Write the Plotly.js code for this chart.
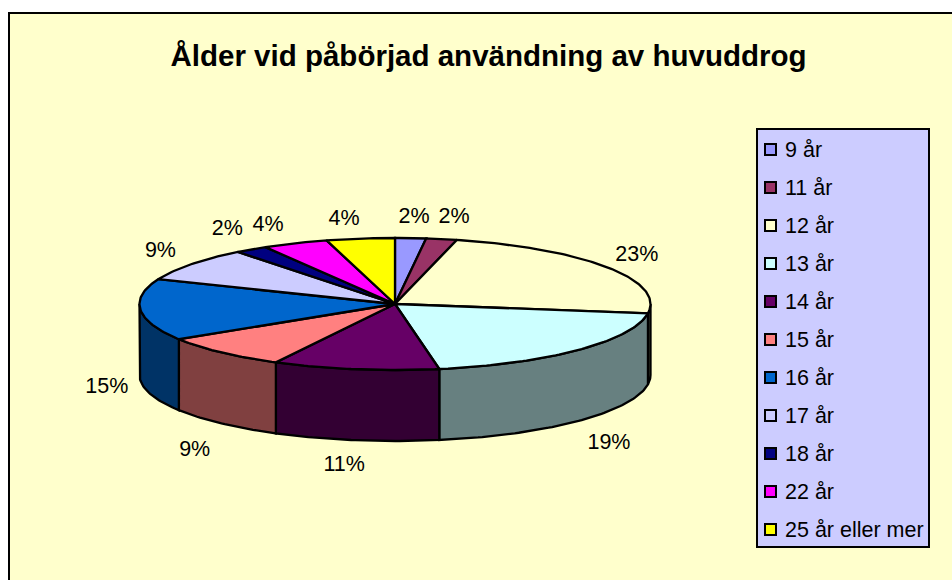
<!DOCTYPE html>
<html><head><meta charset="utf-8">
<script src="https://cdn.plot.ly/plotly-3.0.1.min.js"></script>
<style>html,body{margin:0;padding:0;background:#fff}#c{width:952px;height:580px}</style>
</head><body><div id="c"></div>
<script>
const categories = ["9 år","11 år","12 år","13 år","14 år","15 år","16 år","17 år","18 år","22 år","25 år eller mer"];
const values = [1,1,12,10,6,5,8,5,1,2,2];
const topColors = ["#9999FF","#993366","#FFFFCC","#CCFFFF","#660066","#FF8080","#0066CC","#CCCCFF","#000080","#FF00FF","#FFFF00"];
const sideColors = ["#4C4C80","#4C1933","#808066","#678080","#330033","#804040","#003366","#666680","#000040","#800080","#808000"];
const titleText = "Ålder vid påbörjad användning av huvuddrog";

const font = "Liberation Sans, Arial, sans-serif";
const cx = 395, cy = 304, rx = 255.5, ry = 66, depth = 71;
// Excel's perspective view shifts wedge boundaries slightly
const warpAt = [0,95,163,204,238,292,326,346,360];
const warpBy = [0,3,7,4,0,0,-4,-2,0];
function warp(d){
  for(let i=1;i<warpAt.length;i++){
    if(d<=warpAt[i]){
      const t=(d-warpAt[i-1])/(warpAt[i]-warpAt[i-1]);
      return d+warpBy[i-1]+t*(warpBy[i]-warpBy[i-1]);
    }
  }
  return d;
}
const px = d => cx + rx*Math.sin(d*Math.PI/180);
const py = d => cy - ry*Math.cos(d*Math.PI/180);
const total = values.reduce((a,b)=>a+b,0);
let cum = 0;
const wedges = values.map(v=>{
  const w={a:warp(cum/total*360), b:warp((cum+v)/total*360), m:warp((cum+v/2)/total*360)};
  cum+=v; return w;
});
const traces = [];
function arc(a,b){
  const n=Math.max(2,Math.ceil(Math.abs(b-a)));
  const r=[];
  for(let i=0;i<=n;i++) r.push(a+(b-a)*i/n);
  return r;
}
const edge = {color:"#000",width:2.3};
// sides
wedges.forEach((w,i)=>{
  const a=Math.max(w.a,90), b=Math.min(w.b,270);
  if(b<=a) return;
  const ds=arc(a,b);
  const x=ds.map(px).concat(ds.slice().reverse().map(px)); x.push(x[0]);
  const y=ds.map(py).concat(ds.slice().reverse().map(d=>py(d)+depth)); y.push(y[0]);
  traces.push({type:"scatter",mode:"lines",x,y,fill:"toself",fillcolor:sideColors[i],
    line:edge,showlegend:false,hoverinfo:"skip"});
});
// top faces
wedges.forEach((w,i)=>{
  const ds=arc(w.a,w.b);
  const x=[cx].concat(ds.map(px),[cx]);
  const y=[cy].concat(ds.map(py),[cy]);
  traces.push({type:"scatter",mode:"lines",x,y,fill:"toself",fillcolor:topColors[i],
    line:edge,showlegend:false,hoverinfo:"skip"});
});
// percent labels, set around the wedge midpoints
const nudgeX = [1,5,-4,1,-5,1,7,2,-1,-11,-11];
const nudgeY = [1,0,1,3,-1,6,0,1,-2,2,3];
const lx=[],ly=[],lt=[];
wedges.forEach((w,i)=>{
  const s=Math.sin(w.m*Math.PI/180), c=Math.cos(w.m*Math.PI/180);
  lx.push(cx+rx*1.16*s+nudgeX[i]);
  ly.push(cy-ry*1.33*c+(c<0?depth+5:0)+nudgeY[i]);
  lt.push(Math.round(values[i]/total*100)+"%");
});
traces.push({type:"scatter",mode:"text",x:lx,y:ly,text:lt,textposition:"middle center",
  textfont:{family:font,size:21.5,color:"#000"},showlegend:false,hoverinfo:"skip"});
// legend entries
const legTop=130.5, legStep=38;
const rowY=categories.map((_,i)=>legTop+(i+0.5)*legStep);
traces.push({type:"scatter",mode:"markers",x:categories.map(()=>770.5),y:rowY,showlegend:false,hoverinfo:"skip",
  marker:{symbol:"square",size:11,color:topColors,line:{color:"#000",width:2}}});
traces.push({type:"scatter",mode:"text",x:categories.map(()=>785),y:rowY.map(v=>v+2),text:categories,textposition:"middle right",
  showlegend:false,hoverinfo:"skip",textfont:{family:font,size:21.5,color:"#000"}});
const layout = {
  width:952,height:580,margin:{l:0,r:0,t:0,b:0,autoexpand:false},
  paper_bgcolor:"#fff",plot_bgcolor:"#fff",
  xaxis:{range:[0,952],visible:false,fixedrange:true},
  yaxis:{range:[580,0],visible:false,fixedrange:true},
  shapes:[{type:"rect",xref:"x",yref:"y",x0:9,y0:13,x1:970,y1:600,layer:"below",
    fillcolor:"#FFFFCC",line:{color:"#000",width:2}},
    {type:"rect",xref:"x",yref:"y",x0:757,y0:129,x1:929,y1:547,layer:"below",
    fillcolor:"#CCCCFF",line:{color:"#000",width:2}}],
  title:{text:"<b>"+titleText+"</b>",x:488.5/952,xanchor:"center",xref:"paper",
    y:1-56/580,yanchor:"middle",yref:"paper",font:{family:font,size:29.5,color:"#000"}},
  showlegend:false
};
Plotly.newPlot("c",traces,layout,{displayModeBar:false,staticPlot:true});
</script></body></html>
